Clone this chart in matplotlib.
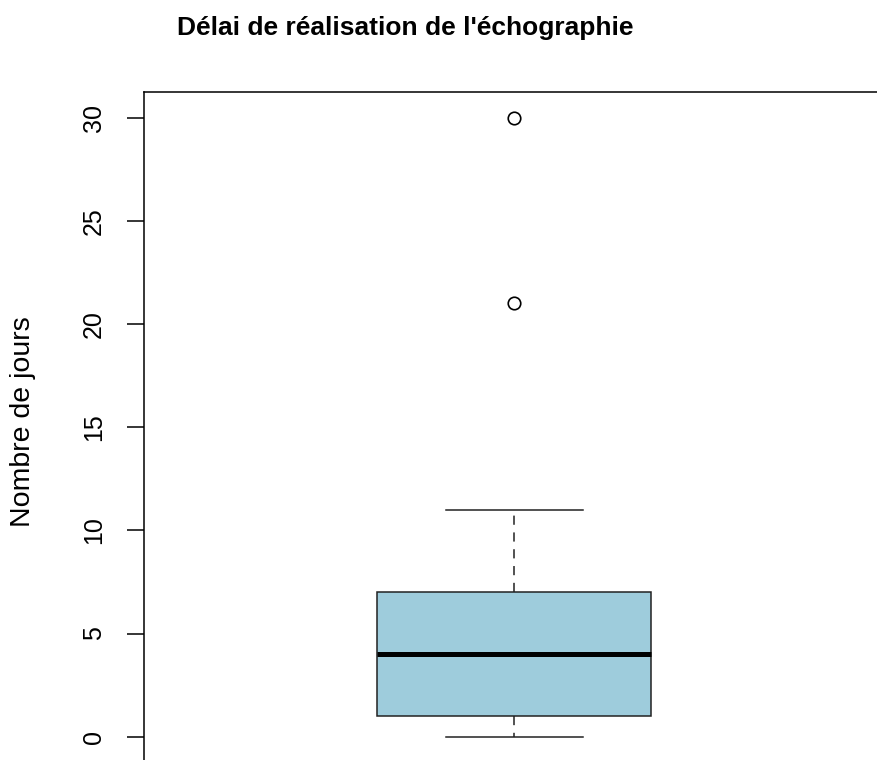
"""Boxplot: délai de réalisation de l'échographie (style R base graphics)."""

import matplotlib
matplotlib.use("Agg")
import matplotlib.pyplot as plt
from matplotlib import font_manager

# box statistics (days)
q1        = 1
median    = 4
q3        = 7
whisk_lo  = 0
whisk_hi  = 11
outliers  = [21, 30]
yticks    = [0, 5, 10, 15, 20, 25, 30]

TITLE  = "Délai de réalisation de l'échographie"
YLABEL = "Nombre de jours"
BOX_COLOR = "#9ECCDC"

W, H = 877, 760


def main():
    names = {f.name for f in font_manager.fontManager.ttflist}
    narrow = "Liberation Sans Narrow" in names
    title_family = ["Liberation Sans Narrow"] if narrow else ["Liberation Sans"]
    title_size = 21.5 if narrow else 19
    plt.rcParams["font.family"] = ["Liberation Sans", "DejaVu Sans"]

    fig = plt.figure(figsize=(W / 100, H / 100), dpi=100)
    # plot region in pixels: left 144.3, right 884, top 92.3, bottom 760.5
    left, right, top, bottom = 144.3, 884.0, 92.3, 760.5
    ax = fig.add_axes([left / W, (H - bottom) / H,
                       (right - left) / W, (bottom - top) / H])

    stats = [dict(med=median, q1=q1, q3=q3, whislo=whisk_lo,
                  whishi=whisk_hi, fliers=outliers)]
    ax.bxp(stats, positions=[1], widths=0.4, patch_artist=True,
           boxprops=dict(facecolor=BOX_COLOR, edgecolor="#222222", linewidth=1.1),
           medianprops=dict(color="black", linewidth=3.6, solid_capstyle="butt"),
           whiskerprops=dict(color="#222222", linewidth=1.1, linestyle=(0, (6, 5))),
           capprops=dict(color="#222222", linewidth=1.1),
           flierprops=dict(marker="o", markersize=9, markerfacecolor="none",
                           markeredgecolor="black", markeredgewidth=1.2))

    ax.set_xlim(0.4592, 1.5406)
    ax.set_ylim(-1.153, 31.23)
    ax.set_xticks([])
    ax.set_yticks(yticks)
    ax.set_yticklabels([str(v) for v in yticks], rotation=90, va="center")
    ax.tick_params(axis="y", length=12.6, width=1.1, pad=15, labelsize=18)
    for s in ax.spines.values():
        s.set_linewidth(1.1)

    fig.text(405 / W, 1 - 35 / H, TITLE, ha="center", va="baseline",
             fontsize=title_size, fontweight="bold", family=title_family)
    fig.text(23.5 / W, 1 - 422 / H, YLABEL, ha="center", va="center",
             rotation=90, fontsize=20.5)

    fig.savefig("out.png", dpi=100)


if __name__ == "__main__":
    main()
